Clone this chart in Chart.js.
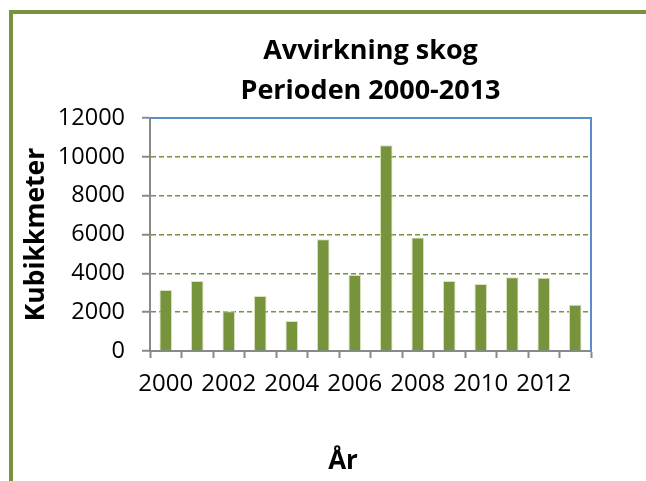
<!DOCTYPE html>
<html>
<head>
<meta charset="utf-8">
<script src="https://cdn.jsdelivr.net/npm/chart.js@4/dist/chart.umd.min.js"></script>
<style>
  html, body { margin: 0; padding: 0; background: #ffffff; overflow: hidden; }
  #frame { position: absolute; left: 9px; top: 10px; width: 700px; height: 600px;
           border-left: 4px solid #77933C; border-top: 4px solid #77933C; z-index: 0; }
  #c { position: absolute; left: 0; top: 0; z-index: 1; }
</style>
</head>
<body>
<div id="frame"></div>
<canvas id="c" width="646" height="481"></canvas>
<script>
// ---- data ----
const years = ['2000','2001','2002','2003','2004','2005','2006','2007','2008','2009','2010','2011','2012','2013'];
const volumes = [3140, 3600, 2050, 2830, 1550, 5750, 3910, 10600, 5850, 3600, 3450, 3800, 3770, 2380];
const shownYearLabels = ['2000','2002','2004','2006','2008','2010','2012'];
const yTickValues = [0, 2000, 4000, 6000, 8000, 10000, 12000];
const titleLines = ['Avvirkning skog', 'Perioden 2000-2013'];
const yAxisTitle = 'Kubikkmeter';
const xAxisTitle = 'År';

const FONT = '"Open Sans"';
const olive = '#77933C';
const axisGray = '#898989';
const frameBlue = '#5B8CCB';

const framePlugin = {
  id: 'frameAndXTitle',
  afterDraw(chart) {
    const { ctx, chartArea } = chart;
    ctx.save();
    ctx.strokeStyle = frameBlue;
    ctx.lineWidth = 2;
    ctx.beginPath();
    ctx.moveTo(chartArea.left, chartArea.top);
    ctx.lineTo(chartArea.right, chartArea.top);
    ctx.lineTo(chartArea.right, chartArea.bottom);
    ctx.stroke();
    ctx.fillStyle = '#000';
    ctx.font = 'bold 26px ' + FONT;
    ctx.textAlign = 'center';
    ctx.textBaseline = 'middle';
    ctx.fillText(xAxisTitle, 343, 462);
    ctx.restore();
  }
};

new Chart(document.getElementById('c'), {
  type: 'bar',
  data: {
    labels: years,
    datasets: [{
      data: volumes,
      backgroundColor: olive,
      borderColor: '#D7E4BD',
      borderWidth: 1,
      barPercentage: 0.4,
      categoryPercentage: 1.0
    }]
  },
  options: {
    responsive: false,
    animation: false,
    devicePixelRatio: 1,
    layout: { padding: { left: 0, right: 55, top: 0, bottom: 0 } },
    plugins: {
      legend: { display: false },
      tooltip: { enabled: false },
      title: {
        display: true,
        fullSize: false,
        text: titleLines,
        color: '#000',
        font: { family: FONT, size: 27, weight: 'bold', lineHeight: '40px' },
        padding: { top: 31, bottom: 7 }
      }
    },
    scales: {
      x: {
        grid: { display: true, drawOnChartArea: false, drawTicks: true, tickLength: 7, tickColor: axisGray, tickWidth: 2 },
        border: { display: true, color: axisGray, width: 2 },
        ticks: {
          autoSkip: false, maxRotation: 0, minRotation: 0, padding: 12,
          color: '#000', font: { family: FONT, size: 24 },
          callback: function (v, i) { const l = years[i]; return shownYearLabels.includes(l) ? l : ''; }
        },
        afterFit(scale) { scale.height = 130; }
      },
      y: {
        min: yTickValues[0],
        max: yTickValues[yTickValues.length - 1],
        afterBuildTicks(scale) { scale.ticks = yTickValues.map(v => ({ value: v })); },
        grid: { color: olive, lineWidth: 1.5, tickLength: 8, tickColor: axisGray, tickWidth: 2, drawTicks: true },
        border: { display: true, color: axisGray, width: 2, dash: [5, 3] },
        ticks: {
          padding: 17, color: '#000', font: { family: FONT, size: 23.5 },
          callback: function (v) { return String(v); }
        },
        title: {
          display: true, text: yAxisTitle, color: '#000',
          font: { family: FONT, size: 26.5, weight: 'bold', lineHeight: 1.2 },
          padding: { top: 21, bottom: 0 }
        },
        afterFit(scale) { scale.width = 150; }
      }
    }
  },
  plugins: [framePlugin]
});
</script>
</body>
</html>
